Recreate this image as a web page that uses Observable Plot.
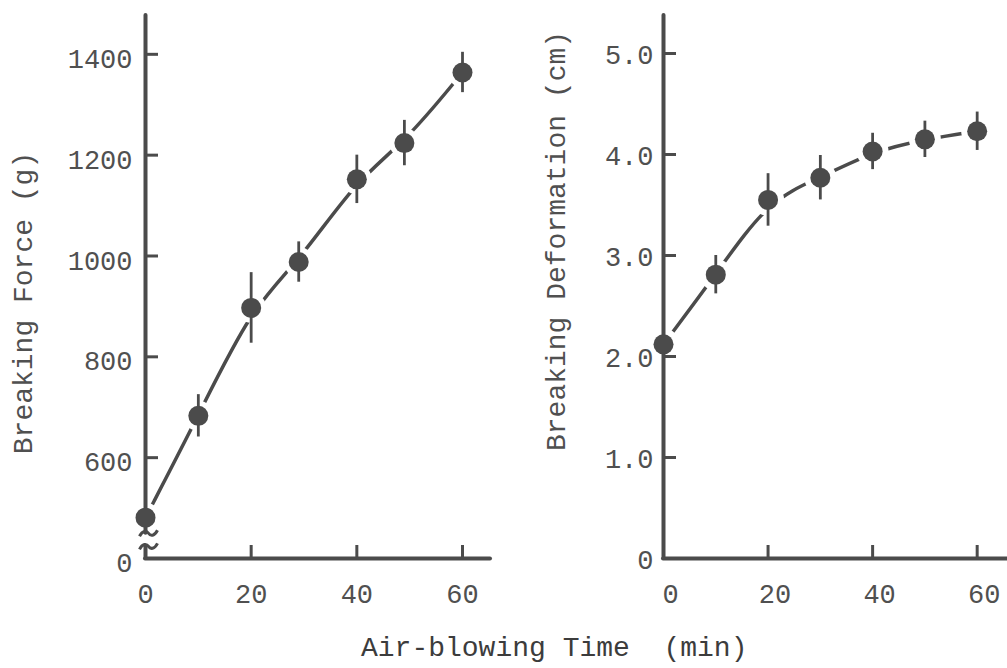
<!DOCTYPE html>
<html>
<head>
<meta charset="utf-8">
<script src="https://cdn.jsdelivr.net/npm/d3@7"></script>
<script src="https://cdn.jsdelivr.net/npm/@observablehq/plot@0.6"></script>
<style>
  html, body { margin: 0; padding: 0; background: #fff; }
  #wrap { position: relative; width: 1007px; height: 668px; overflow: hidden; background: #fff; }
  #left { position: absolute; left: 0; top: 0; }
  #right { position: absolute; left: 507px; top: 0; }
  #xtitle { position: absolute; left: 361px; top: 635px; font-family: "Liberation Mono", monospace;
            font-size: 28px; line-height: 28px; color: #3c3c3c; white-space: pre; }
</style>
</head>
<body>
<div id="wrap">
  <div id="left"></div>
  <div id="right"></div>
  <div id="xtitle"></div>
</div>
<script>
// ---- data ----
const timeLeft = [0, 10, 20, 29, 40, 49, 60];
const breakingForce = [481, 683, 897, 988, 1152, 1224, 1364];
const breakingForceErr = [22, 42, 70, 40, 48, 45, 40];

const timeRight = [0, 10, 20, 30, 40, 50, 60];
const breakingDeformation = [2.12, 2.81, 3.55, 3.77, 4.03, 4.15, 4.23];
const breakingDeformationErr = [0.08, 0.19, 0.26, 0.22, 0.18, 0.18, 0.19];

const xTicks = [0, 20, 40, 60];
const forceTicks = [400, 600, 800, 1000, 1200, 1400];
const forceTickLabels = ["0", "600", "800", "1000", "1200", "1400"];
const deformTicks = [0, 1, 2, 3, 4, 5];
const deformTickLabels = ["0", "1.0", "2.0", "3.0", "4.0", "5.0"];
const forceAxisBreak = [424, 450];

const xTitle = "Air-blowing Time  (min)";
const forceTitle = "Breaking Force (g)";
const deformTitle = "Breaking Deformation (cm)";

const INK = "#4b4b4b";
const TXT = "#505050";
const H = 620, MT = 15, MB = 62;

// tilde-shaped symbol for the axis break
const tilde = {
  draw(ctx) {
    ctx.moveTo(-9, 3);
    ctx.bezierCurveTo(-6, -3, -2, -3, 0, 0);
    ctx.bezierCurveTo(2, 3, 6, 3, 9, -3);
  }
};

function panel(o) {
  const data = o.xs.map((x, i) => ({x, y: o.ys[i], e: o.es[i]}));
  const frameW = o.width - o.marginLeft - o.marginRight;
  const frameH = H - MT - MB;
  const y0 = o.yDomain[0], yTop = o.yDomain[1];
  const axisSegs = o.axisBreak
    ? [{a: o.axisBreak[1], b: yTop}, {a: y0, b: o.axisBreak[0]}]
    : [{a: y0, b: yTop}];
  const marks = [
    // fitted curve
    Plot.line(data, {x: "x", y: "y", curve: "basis", stroke: INK, strokeWidth: 3.5}),
    // white halo around points (gaps in curve)
    Plot.dot(data, {x: "x", y: "y", r: o.halo, fill: "white"}),
    // x axis line
    Plot.ruleY([y0], {x1: 0, x2: o.xDomain[1], stroke: INK, strokeWidth: 4, strokeLinecap: "round"}),
    // y axis line (possibly broken)
    Plot.ruleX(axisSegs, {x: 0, y1: "a", y2: "b", stroke: INK, strokeWidth: 4, strokeLinecap: "round"}),
    // inward ticks
    Plot.ruleX(xTicks.slice(1), {x: d => d, insetTop: frameH - 13, stroke: INK, strokeWidth: 3}),
    Plot.ruleY(o.yTicks.slice(1), {y: d => d, insetRight: frameW - 13, stroke: INK, strokeWidth: 3}),
    Plot.axisX({ticks: xTicks, tickSize: 0, tickPadding: 25, dx: o.xdx, fill: TXT, label: null}),
    Plot.axisY({ticks: o.yTicks, tickSize: 0, tickPadding: o.yPad, dy: o.ydy, fill: TXT, label: null,
                tickFormat: (d) => o.yLabels[o.yTicks.indexOf(d)]}),
    // error bars
    Plot.ruleX(data, {x: "x", y1: d => d.y - d.e, y2: d => d.y + d.e, stroke: INK, strokeWidth: 2.8}),
    // points
    Plot.dot(data, {x: "x", y: "y", r: 10, fill: INK}),
    // y title
    Plot.text([o.title], {text: d => d, frameAnchor: "left", textAnchor: "middle", rotate: -90,
                          dx: o.tdx, dy: o.tdy, fontSize: 28, fill: TXT})
  ];
  if (o.axisBreak) {
    marks.push(Plot.dot(o.axisBreak, {x: 0, y: d => d, symbol: tilde, r: 5, fill: "none",
                                      stroke: INK, strokeWidth: 3, dx: 3}));
  }
  return Plot.plot({
    width: o.width, height: H,
    marginTop: MT, marginBottom: MB, marginLeft: o.marginLeft, marginRight: o.marginRight,
    style: {fontFamily: "Liberation Mono, monospace", fontSize: "27px", background: "white", color: TXT},
    x: {domain: o.xDomain, label: null},
    y: {domain: o.yDomain, label: null},
    marks
  });
}

document.getElementById("left").append(panel({
  xs: timeLeft, ys: breakingForce, es: breakingForceErr,
  width: 500, marginLeft: 145, marginRight: 10,
  xDomain: [0, 65.3], yDomain: [400, 1477],
  yTicks: forceTicks, yLabels: forceTickLabels,
  axisBreak: forceAxisBreak, halo: 15,
  xdx: 0, ydy: 5, yPad: 13,
  title: forceTitle, tdx: -122, tdy: 16
}));

document.getElementById("right").append(panel({
  xs: timeRight, ys: breakingDeformation, es: breakingDeformationErr,
  width: 500, marginLeft: 156, marginRight: 0,
  xDomain: [0, 65.8], yDomain: [0, 5.376],
  yTicks: deformTicks, yLabels: deformTickLabels,
  axisBreak: null, halo: 16,
  xdx: 7, ydy: 2, yPad: 10,
  title: deformTitle, tdx: -107, tdy: -46
}));

document.getElementById("xtitle").textContent = xTitle;
</script>
</body>
</html>
